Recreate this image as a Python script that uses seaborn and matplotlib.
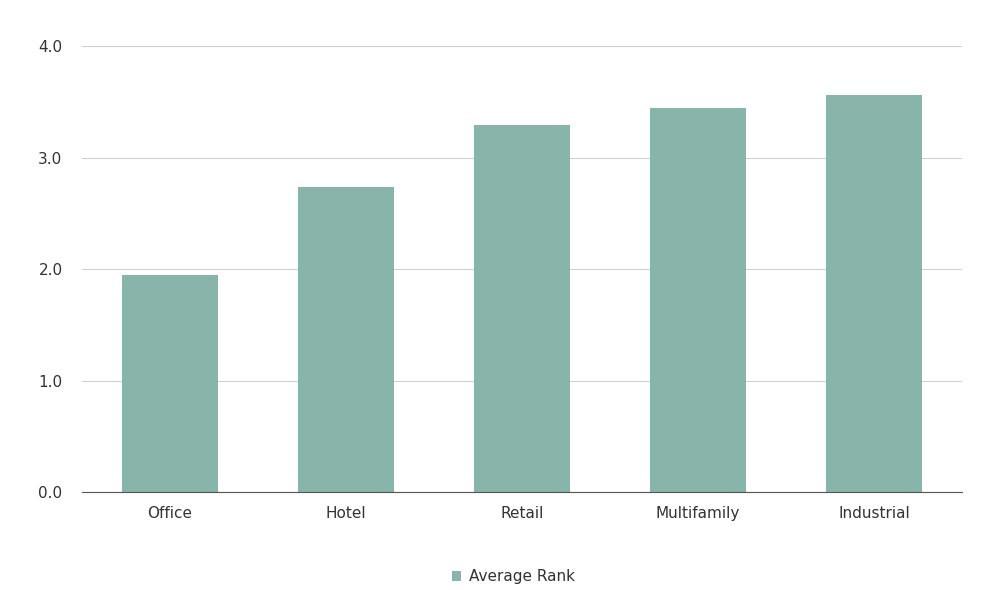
import matplotlib
matplotlib.use("Agg")
import matplotlib.pyplot as plt
import seaborn as sns
import pandas as pd

categories = ["Office", "Hotel", "Retail", "Multifamily", "Industrial"]
values = [1.95, 2.74, 3.29, 3.44, 3.56]
yticks = [0.0, 1.0, 2.0, 3.0, 4.0]

df = pd.DataFrame({"Property": categories, "Average Rank": values})

fig = plt.figure(figsize=(10, 5.9), dpi=100)
ax = fig.add_axes([0.082, 0.166, 0.88, 0.756])
color = "#82bbac"
sns.barplot(data=df, x="Property", y="Average Rank", color=color, width=0.54, ax=ax, label="Average Rank")
ax.set_ylim(0, 4)
ax.set_yticks(yticks)
ax.set_yticklabels([f"{t:.1f}" for t in yticks])
ax.set_xlim(-0.5, 4.5)
ax.grid(axis="y", color="#d0d0d0", linewidth=0.8)
ax.set_axisbelow(True)
for s in ["top", "right", "left"]:
    ax.spines[s].set_visible(False)
ax.spines["bottom"].set_color("#555555")
ax.tick_params(axis="both", length=0, colors="#333333", labelsize=11)
ax.tick_params(axis="x", pad=10)
ax.tick_params(axis="y", pad=14)
ax.set_xlabel("")
ax.set_ylabel("")
leg = ax.legend(loc="center", bbox_to_anchor=(0.49, -0.19), frameon=False, fontsize=11,
                handlelength=0.6, handleheight=0.6, handletextpad=0.5)
for t in leg.get_texts():
    t.set_color("#333333")
fig.savefig("out.png", dpi=100)
